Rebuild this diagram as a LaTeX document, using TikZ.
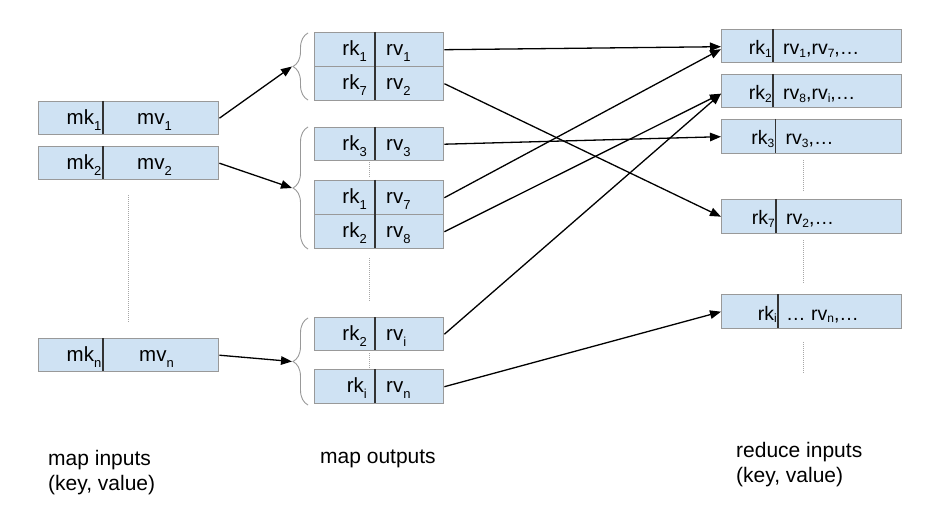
\documentclass[tikz,border=0pt]{standalone}
\usepackage{fontspec}
\setmainfont{Liberation Sans}
\usetikzlibrary{arrows.meta,decorations.pathreplacing}
\definecolor{boxfill}{HTML}{CFE2F3}
\definecolor{boxline}{HTML}{999999}
\definecolor{divline}{HTML}{333333}
\newcommand\lo[1]{\raisebox{-6pt}{\fontsize{13}{13}\selectfont #1}}
\newcommand\lr[1]{\raisebox{-2.5pt}{\fontsize{12}{12}\selectfont #1}}
% name, x1, y1, x2, y2, xdiv, key, val, val offset
\newcommand\kv[9]{%
  \node[kvbox, anchor=north west, minimum width={#4-#2}, minimum height={#5-#3}] (#1) at (#2,#3) {};
  \draw[divider] (#6,#3) -- (#6,#5);
  \node[anchor=base east, inner sep=0pt] (#1k) at ({#6-\kgap},{#3+\bo}) {#7};
  \node[anchor=base west, inner sep=0pt] (#1v) at ({#6+#9},{#3+\bo}) {#8};
}
\begin{document}
\begin{tikzpicture}[x=1pt,y=-1pt,
  font=\fontsize{20.5}{24}\selectfont,
  kvbox/.style={draw=boxline, fill=boxfill, line width=1.4pt, rectangle, inner sep=0pt},
  divider/.style={draw=divline, line width=1.1pt},
  arr/.style={draw=black, line width=1.3pt, -{Triangle[length=11pt,width=8.5pt]}},
  dots/.style={draw=gray!70, line width=0.9pt, dash pattern=on 1pt off 1pt},
  grpbrace/.style={draw=gray!80, line width=0.9pt, decorate, decoration={brace, amplitude=15pt}},
  label/.style={align=left, anchor=north west, inner sep=0pt, font=\fontsize{21}{25}\selectfont}]
\useasboundingbox (0,0) rectangle (942,513);

% map inputs
\def\bo{23.5}
\def\kgap{1.5}
\kv{in1}{38}{101}{218}{134}{103}{mk\lo{1}}{mv\lo{1}}{34}
\kv{in2}{38}{146}{218}{179}{103}{mk\lo{2}}{mv\lo{2}}{34}
\kv{inn}{38}{338}{218}{371}{103}{mk\lo{n}}{mv\lo{n}}{36}
\draw[dots] (128,195) -- (128,322);

% map outputs
\def\kgap{8}
\kv{o1}{314}{32}{443}{66}{375}{rk\lo{1}}{rv\lo{1}}{11}
\kv{o2}{314}{66}{443}{100}{375}{rk\lo{7}}{rv\lo{2}}{11}
\kv{o3}{314}{127}{443}{160}{375}{rk\lo{3}}{rv\lo{3}}{11}
\kv{o4}{314}{180}{443}{214}{375}{rk\lo{1}}{rv\lo{7}}{11}
\kv{o5}{314}{214}{443}{248}{375}{rk\lo{2}}{rv\lo{8}}{11}
\kv{o6}{314}{317}{443}{350}{375}{rk\lo{2}}{rv\lo{i}}{11}
\kv{o7}{314}{369}{443}{403}{375}{rk\lo{i}}{rv\lo{n}}{11}
\draw[dots] (369,162) -- (369,178);
\draw[dots] (369,258) -- (369,302);
\draw[dots] (369,353) -- (369,368);

% braces
\draw[grpbrace] (308,100) -- (308,33);
\draw[grpbrace] (308,249) -- (308,127);
\draw[grpbrace] (308,405) -- (308,318);
\coordinate (t1) at (292,66.5);
\coordinate (t2) at (292,188);
\coordinate (t3) at (292,361.5);

% reduce inputs
\def\bo{26}
\def\kgap{1}
\begin{scope}[font=\fontsize{19.5}{23}\selectfont]
\kv{r1}{721}{29}{901}{62}{773}{rk\lr{1}}{rv\lr{1},rv\lr{7},…}{10}
\kv{r2}{721}{74}{901}{107}{773}{rk\lr{2}}{rv\lr{8},rv\lr{i},…}{10}
\kv{r3}{721}{119}{901}{153}{775.5}{rk\lr{3}}{rv\lr{3},…}{10}
\kv{r4}{721}{199}{901}{233}{776}{rk\lr{7}}{rv\lr{2},…}{10}
\kv{r5}{721}{294}{901}{328}{778}{rk\lr{i}}{… rv\lr{n},…}{8}
\end{scope}
\draw[dots] (803,160) -- (803,192);
\draw[dots] (803,240) -- (803,283);
\draw[dots] (803,342) -- (803,373);

% connectors
\draw[arr] (in1.east) -- (t1);
\draw[arr] (in2.east) -- (t2);
\draw[arr] (inn.east) -- (t3);
\draw[arr] (o1.east) -- ([yshift=-0.5pt]r1.west);
\draw[arr] (o2.east) -- (r4.west);
\draw[arr] (o3.east) -- (r3.west);
\draw[arr] (o4.east) -- ([yshift=-3pt]r1.west);
\draw[arr] (o5.east) -- ([yshift=-2.5pt]r2.west);
\draw[arr] (o6.east) -- ([yshift=-2.5pt]r2.west);
\draw[arr] (o7.east) -- (r5.west);

% labels
\node[label] (l1) at (48,450) {map inputs\\(key, value)};
\node[label] (l2) at (320,450) {map outputs};
\node[label] (l3) at (736,442) {reduce inputs\\(key, value)};
\end{tikzpicture}
\end{document}
